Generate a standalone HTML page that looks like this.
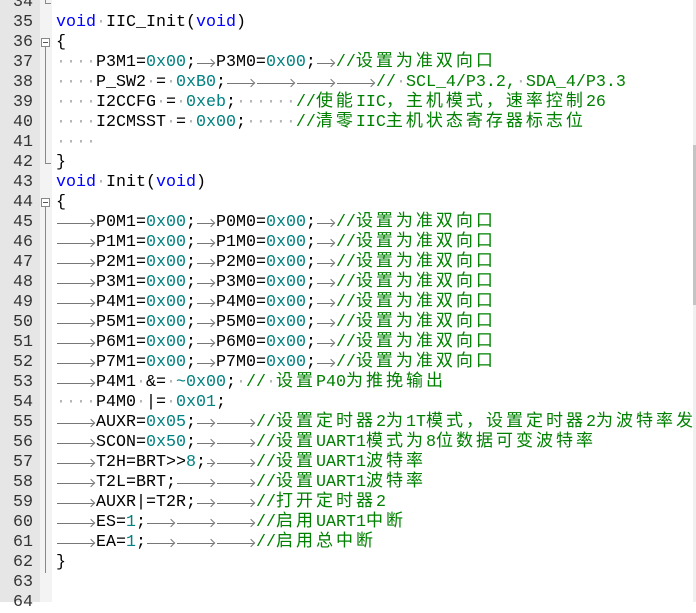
<!DOCTYPE html>
<html><head><meta charset="utf-8"><style>
body{margin:0;width:696px;height:602px;overflow:hidden;background:#fff;position:relative;font-family:"Liberation Mono","Noto Sans CJK SC",monospace;font-size:16.67px}
#gut{position:absolute;left:0;top:0;width:40px;height:602px;background:#e6e6e6}
#fold{position:absolute;left:40px;top:0;width:12px;height:602px;background:#f3f3f3}
.ln{position:absolute;left:0;width:33px;text-align:right;color:#333;height:20px;line-height:20px;margin-top:2px}
.cl{position:absolute;left:56px;height:20px;line-height:20px;white-space:pre;color:#000;overflow:visible;margin-top:2px}
.k{color:#0000ff}.n{color:#008080}.c{color:#008000}.d{color:#b0b0b0}
.z{letter-spacing:3px;font-size:17px;line-height:0}
.t{display:inline-block;position:relative;height:20px;vertical-align:top}
.t::before{content:"";position:absolute;left:1px;right:2px;top:10px;border-top:1px solid #777}
.t::after{content:"";position:absolute;right:2px;top:7px;width:5px;height:5px;border-top:1px solid #777;border-right:1px solid #777;transform:rotate(45deg);transform-origin:center}
.fb{position:absolute;left:41px;width:9px;height:9px;border:1px solid #888;background:#fff;box-sizing:border-box}
.fb::after{content:"";position:absolute;left:1px;right:1px;top:3px;border-top:1px solid #555}
.vl{position:absolute;left:45px;width:1px;background:#888}
.corner{position:absolute;left:45px;width:6px;height:1px;background:#888}
#sb{position:absolute;left:693px;top:0;width:3px;height:602px;background:#f0f0f0}
#th{position:absolute;left:693px;top:145px;width:3px;height:160px;background:#c4c4c4}
</style></head><body>
<div id="gut"></div><div id="fold"></div><div id="sb"></div><div id="th"></div>
<div class="vl" style="top:-9px;height:12px"></div><div class="corner" style="top:3px"></div>
<div class="fb" style="top:38px"></div>
<div class="vl" style="top:47px;height:116px"></div><div class="corner" style="top:163px"></div>
<div class="fb" style="top:198px"></div>
<div class="vl" style="top:207px;height:366px"></div>

<div class="ln" style="top:-9px">34</div>
<div class="ln" style="top:11px">35</div><div class="cl" style="top:11px"><span class="k">void</span><span class="d">·</span>IIC_Init(<span class="k">void</span>)</div>
<div class="ln" style="top:31px">36</div><div class="cl" style="top:31px">{</div>
<div class="ln" style="top:51px">37</div><div class="cl" style="top:51px"><span class="d">····</span>P3M1=<span class="n">0x00</span>;<i class="t" style="width:20px"></i>P3M0=<span class="n">0x00</span>;<i class="t" style="width:20px"></i><span class="c">//<span class="z">设置为准双向口</span></span></div>
<div class="ln" style="top:71px">38</div><div class="cl" style="top:71px"><span class="d">····</span>P_SW2<span class="d">·</span>=<span class="d">·</span><span class="n">0xB0</span>;<i class="t" style="width:30px"></i><i class="t" style="width:40px"></i><i class="t" style="width:40px"></i><i class="t" style="width:40px"></i><span class="c">//<span class="d">·</span>SCL_4/P3.2,<span class="d">·</span>SDA_4/P3.3</span></div>
<div class="ln" style="top:91px">39</div><div class="cl" style="top:91px"><span class="d">····</span>I2CCFG<span class="d">·</span>=<span class="d">·</span><span class="n">0xeb</span>;<span class="d">······</span><span class="c">//<span class="z">使能</span>IIC<span class="z">，主机模式，速率控制</span>26</span></div>
<div class="ln" style="top:111px">40</div><div class="cl" style="top:111px"><span class="d">····</span>I2CMSST<span class="d">·</span>=<span class="d">·</span><span class="n">0x00</span>;<span class="d">·····</span><span class="c">//<span class="z">清零</span>IIC<span class="z">主机状态寄存器标志位</span></span></div>
<div class="ln" style="top:131px">41</div><div class="cl" style="top:131px"><span class="d">····</span></div>
<div class="ln" style="top:151px">42</div><div class="cl" style="top:151px">}</div>
<div class="ln" style="top:171px">43</div><div class="cl" style="top:171px"><span class="k">void</span><span class="d">·</span>Init(<span class="k">void</span>)</div>
<div class="ln" style="top:191px">44</div><div class="cl" style="top:191px">{</div>
<div class="ln" style="top:211px">45</div><div class="cl" style="top:211px"><i class="t" style="width:40px"></i>P0M1=<span class="n">0x00</span>;<i class="t" style="width:20px"></i>P0M0=<span class="n">0x00</span>;<i class="t" style="width:20px"></i><span class="c">//<span class="z">设置为准双向口</span></span></div>
<div class="ln" style="top:231px">46</div><div class="cl" style="top:231px"><i class="t" style="width:40px"></i>P1M1=<span class="n">0x00</span>;<i class="t" style="width:20px"></i>P1M0=<span class="n">0x00</span>;<i class="t" style="width:20px"></i><span class="c">//<span class="z">设置为准双向口</span></span></div>
<div class="ln" style="top:251px">47</div><div class="cl" style="top:251px"><i class="t" style="width:40px"></i>P2M1=<span class="n">0x00</span>;<i class="t" style="width:20px"></i>P2M0=<span class="n">0x00</span>;<i class="t" style="width:20px"></i><span class="c">//<span class="z">设置为准双向口</span></span></div>
<div class="ln" style="top:271px">48</div><div class="cl" style="top:271px"><i class="t" style="width:40px"></i>P3M1=<span class="n">0x00</span>;<i class="t" style="width:20px"></i>P3M0=<span class="n">0x00</span>;<i class="t" style="width:20px"></i><span class="c">//<span class="z">设置为准双向口</span></span></div>
<div class="ln" style="top:291px">49</div><div class="cl" style="top:291px"><i class="t" style="width:40px"></i>P4M1=<span class="n">0x00</span>;<i class="t" style="width:20px"></i>P4M0=<span class="n">0x00</span>;<i class="t" style="width:20px"></i><span class="c">//<span class="z">设置为准双向口</span></span></div>
<div class="ln" style="top:311px">50</div><div class="cl" style="top:311px"><i class="t" style="width:40px"></i>P5M1=<span class="n">0x00</span>;<i class="t" style="width:20px"></i>P5M0=<span class="n">0x00</span>;<i class="t" style="width:20px"></i><span class="c">//<span class="z">设置为准双向口</span></span></div>
<div class="ln" style="top:331px">51</div><div class="cl" style="top:331px"><i class="t" style="width:40px"></i>P6M1=<span class="n">0x00</span>;<i class="t" style="width:20px"></i>P6M0=<span class="n">0x00</span>;<i class="t" style="width:20px"></i><span class="c">//<span class="z">设置为准双向口</span></span></div>
<div class="ln" style="top:351px">52</div><div class="cl" style="top:351px"><i class="t" style="width:40px"></i>P7M1=<span class="n">0x00</span>;<i class="t" style="width:20px"></i>P7M0=<span class="n">0x00</span>;<i class="t" style="width:20px"></i><span class="c">//<span class="z">设置为准双向口</span></span></div>
<div class="ln" style="top:371px">53</div><div class="cl" style="top:371px"><i class="t" style="width:40px"></i>P4M1<span class="d">·</span>&amp;=<span class="d">·</span><span class="n">~0x00</span>;<span class="d">·</span><span class="c">//<span class="d">·</span><span class="z">设置</span>P40<span class="z">为推挽输出</span></span></div>
<div class="ln" style="top:391px">54</div><div class="cl" style="top:391px"><span class="d">····</span>P4M0<span class="d">·</span>|=<span class="d">·</span><span class="n">0x01</span>;</div>
<div class="ln" style="top:411px">55</div><div class="cl" style="top:411px"><i class="t" style="width:40px"></i>AUXR=<span class="n">0x05</span>;<i class="t" style="width:20px"></i><i class="t" style="width:40px"></i><span class="c">//<span class="z">设置定时器</span>2<span class="z">为</span>1T<span class="z">模式，设置定时器</span>2<span class="z">为波特率发</span></span></div>
<div class="ln" style="top:431px">56</div><div class="cl" style="top:431px"><i class="t" style="width:40px"></i>SCON=<span class="n">0x50</span>;<i class="t" style="width:20px"></i><i class="t" style="width:40px"></i><span class="c">//<span class="z">设置</span>UART1<span class="z">模式为</span>8<span class="z">位数据可变波特率</span></span></div>
<div class="ln" style="top:451px">57</div><div class="cl" style="top:451px"><i class="t" style="width:40px"></i>T2H=BRT&gt;&gt;<span class="n">8</span>;<i class="t" style="width:10px"></i><i class="t" style="width:40px"></i><span class="c">//<span class="z">设置</span>UART1<span class="z">波特率</span></span></div>
<div class="ln" style="top:471px">58</div><div class="cl" style="top:471px"><i class="t" style="width:40px"></i>T2L=BRT;<i class="t" style="width:40px"></i><i class="t" style="width:40px"></i><span class="c">//<span class="z">设置</span>UART1<span class="z">波特率</span></span></div>
<div class="ln" style="top:491px">59</div><div class="cl" style="top:491px"><i class="t" style="width:40px"></i>AUXR|=T2R;<i class="t" style="width:20px"></i><i class="t" style="width:40px"></i><span class="c">//<span class="z">打开定时器</span>2</span></div>
<div class="ln" style="top:511px">60</div><div class="cl" style="top:511px"><i class="t" style="width:40px"></i>ES=<span class="n">1</span>;<i class="t" style="width:30px"></i><i class="t" style="width:40px"></i><i class="t" style="width:40px"></i><span class="c">//<span class="z">启用</span>UART1<span class="z">中断</span></span></div>
<div class="ln" style="top:531px">61</div><div class="cl" style="top:531px"><i class="t" style="width:40px"></i>EA=<span class="n">1</span>;<i class="t" style="width:30px"></i><i class="t" style="width:40px"></i><i class="t" style="width:40px"></i><span class="c">//<span class="z">启用总中断</span></span></div>
<div class="ln" style="top:551px">62</div><div class="cl" style="top:551px">}</div>
<div class="ln" style="top:571px">63</div>
<div class="ln" style="top:591px">64</div>
</body></html>
